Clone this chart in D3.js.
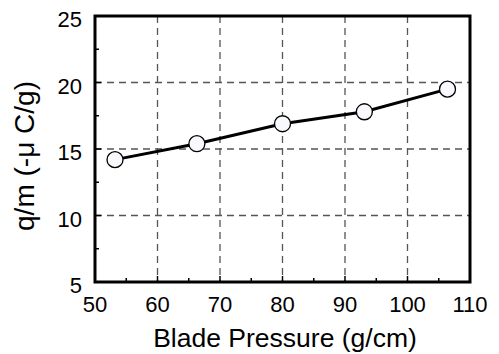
<!DOCTYPE html>
<html>
<head>
<meta charset="utf-8">
<script src="https://cdn.jsdelivr.net/npm/d3@7"></script>
<style>
  html, body { margin:0; padding:0; background:#fff; }
  svg { display:block; font-family:"Liberation Sans", Arial, Helvetica, sans-serif; }
</style>
</head>
<body>
<div id="chart"></div>
<script>
// data
const pressure = [53.2, 66.3, 80.0, 93.1, 106.4];
const qm       = [14.2, 15.4, 16.9, 17.8, 19.5];

const xTicks = [50, 60, 70, 80, 90, 100, 110];
const yTicks = [5, 10, 15, 20, 25];
const xMinor = [55, 65, 75, 85, 95, 105];
const yMinor = [7.5, 12.5, 17.5, 22.5];

const W = 499, H = 354;
const margin = { left:95, right:29, top:16, bottom:72 };

const svg = d3.select("#chart").append("svg")
  .attr("width", W).attr("height", H);

const x = d3.scaleLinear().domain([50, 110]).range([margin.left, W - margin.right]);
const y = d3.scaleLinear().domain([5, 25]).range([H - margin.bottom, margin.top]);

// ── dashed grid ──────────────────────────────────────────────
const grid = svg.append("g")
  .attr("stroke", "#555")
  .attr("stroke-width", 1.3)
  .attr("stroke-dasharray", "7,5");

grid.selectAll("line.vx")
  .data(xTicks.slice(1, -1))
  .enter().append("line")
  .attr("x1", d => x(d)).attr("x2", d => x(d))
  .attr("y1", y(25)).attr("y2", y(5));

grid.selectAll("line.hy")
  .data(yTicks.slice(1, -1))
  .enter().append("line")
  .attr("y1", d => y(d)).attr("y2", d => y(d))
  .attr("x1", x(50)).attr("x2", x(110));

// ── inward ticks ─────────────────────────────────────────────
const ticks = svg.append("g").attr("stroke", "#000").attr("stroke-width", 1.5);
ticks.selectAll("line.xt")
  .data(xTicks.concat(xMinor))
  .enter().append("line")
  .attr("x1", d => x(d)).attr("x2", d => x(d))
  .attr("y1", y(5)).attr("y2", d => y(5) - (xTicks.includes(d) ? 6 : 4));
ticks.selectAll("line.yt")
  .data(yTicks.concat(yMinor))
  .enter().append("line")
  .attr("y1", d => y(d)).attr("y2", d => y(d))
  .attr("x1", x(50)).attr("x2", d => x(50) + (yTicks.includes(d) ? 6 : 4));

// ── frame ────────────────────────────────────────────────────
svg.append("rect")
  .attr("x", x(50)).attr("y", y(25))
  .attr("width", x(110) - x(50))
  .attr("height", y(5) - y(25))
  .attr("fill", "none")
  .attr("stroke", "#000")
  .attr("stroke-width", 3);

// ── tick labels ──────────────────────────────────────────────
svg.append("g").selectAll("text")
  .data(xTicks)
  .enter().append("text")
  .attr("x", d => x(d))
  .attr("y", 312)
  .attr("text-anchor", "middle")
  .style("font-size", "22px")
  .text(d => d);

svg.append("g").selectAll("text")
  .data(yTicks)
  .enter().append("text")
  .attr("x", 82)
  .attr("y", d => y(d) + 11)
  .attr("text-anchor", "end")
  .style("font-size", "22px")
  .text(d => d);

// ── axis titles ──────────────────────────────────────────────
svg.append("text")
  .attr("x", 285).attr("y", 347)
  .attr("text-anchor", "middle")
  .style("font-size", "26.5px")
  .text("Blade Pressure (g/cm)");

svg.append("text")
  .attr("transform", "translate(34,156) rotate(-90)")
  .attr("text-anchor", "middle")
  .style("font-size", "28px")
  .text("q/m (-\u03bc  C/g)");

// ── data line + markers ──────────────────────────────────────
const pts = pressure.map((p, i) => [p, qm[i]]);

svg.append("path")
  .datum(pts)
  .attr("fill", "none")
  .attr("stroke", "#000")
  .attr("stroke-width", 3)
  .attr("d", d3.line().x(d => x(d[0])).y(d => y(d[1])));

svg.append("g").selectAll("circle")
  .data(pts)
  .enter().append("circle")
  .attr("cx", d => x(d[0]))
  .attr("cy", d => y(d[1]))
  .attr("r", 8)
  .attr("fill", "#f8f9fc")
  .attr("stroke", "#000")
  .attr("stroke-width", 1.3);
</script>
</body>
</html>
